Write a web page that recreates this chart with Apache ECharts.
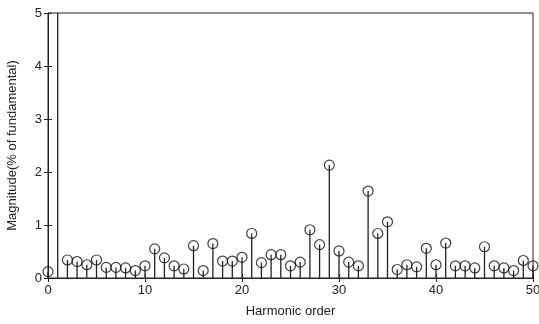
<!DOCTYPE html>
<html>
<head>
<meta charset="utf-8">
<script src="https://cdn.jsdelivr.net/npm/echarts@6/dist/echarts.min.js"></script>
<style>
  html, body { margin: 0; padding: 0; background: #fff; }
  #main { width: 539px; height: 324px; }
</style>
</head>
<body>
<div id="main"></div>
<script>
// harmonic order 0..50, magnitude in % of fundamental (h1 = 100, off the scale)
var orders = [];
for (var i = 0; i <= 50; i++) orders.push(i);
var magnitudes = [
  0.12, 100, 0.34, 0.31, 0.25, 0.34, 0.20, 0.20, 0.19, 0.14,
  0.23, 0.55, 0.38, 0.23, 0.17, 0.61, 0.14, 0.65, 0.32, 0.32,
  0.39, 0.84, 0.29, 0.44, 0.44, 0.23, 0.30, 0.91, 0.63, 2.13,
  0.51, 0.30, 0.23, 1.64, 0.84, 1.06, 0.16, 0.25, 0.21, 0.56,
  0.25, 0.66, 0.23, 0.23, 0.19, 0.59, 0.23, 0.19, 0.14, 0.33,
  0.23
];
var xTicks = [0, 10, 20, 30, 40, 50];
var yTicks = [0, 1, 2, 3, 4, 5];

var points = orders.map(function (h, i) { return [h, magnitudes[i]]; });

var chart = echarts.init(document.getElementById('main'), null, { renderer: 'canvas' });

var font = 'Liberation Sans, Arial, sans-serif';
var lineCol = '#222';

var tickStyle = { show: true, inside: true, length: 4, lineStyle: { color: lineCol } };

chart.setOption({
  animation: false,
  grid: {
    left: 48, right: 6, top: 13, bottom: 46,
    outerBoundsMode: 'none',
    show: true, borderColor: lineCol, borderWidth: 1
  },
  xAxis: [{
    type: 'value', min: xTicks[0], max: xTicks[xTicks.length - 1], interval: 10,
    name: 'Harmonic order', nameLocation: 'middle', nameGap: 27,
    nameTextStyle: { fontFamily: font, fontSize: 13, color: '#222' },
    axisLine: { lineStyle: { color: lineCol } },
    axisTick: tickStyle,
    axisLabel: { fontFamily: font, fontSize: 13, color: '#222', margin: 6 },
    splitLine: { show: false }
  }, {
    type: 'value', position: 'top', min: 0, max: 50, interval: 10,
    axisLine: { show: false }, axisTick: tickStyle,
    axisLabel: { show: false }, splitLine: { show: false }
  }],
  yAxis: [{
    type: 'value', min: yTicks[0], max: yTicks[yTicks.length - 1], interval: 1,
    name: 'Magnitude(% of fundamental)', nameLocation: 'middle', nameGap: 29,
    nameTextStyle: { fontFamily: font, fontSize: 13, color: '#222' },
    axisLine: { show: true, lineStyle: { color: lineCol } },
    axisTick: tickStyle,
    axisLabel: { fontFamily: font, fontSize: 13, color: '#222', margin: 6 },
    splitLine: { show: false }
  }, {
    type: 'value', position: 'right', min: 0, max: 5, interval: 1,
    axisLine: { show: false }, axisTick: tickStyle,
    axisLabel: { show: false }, splitLine: { show: false }
  }],
  series: [{
    // stems
    type: 'bar',
    data: points,
    barWidth: 1.3,
    clip: true,
    itemStyle: { color: lineCol },
    silent: true
  }, {
    // open circle markers
    type: 'scatter',
    data: points,
    clip: true,
    symbol: 'circle',
    symbolSize: 10,
    itemStyle: { color: 'rgba(0,0,0,0)', borderColor: '#111', borderWidth: 1.2 },
    z: 3
  }]
});
</script>
</body>
</html>
